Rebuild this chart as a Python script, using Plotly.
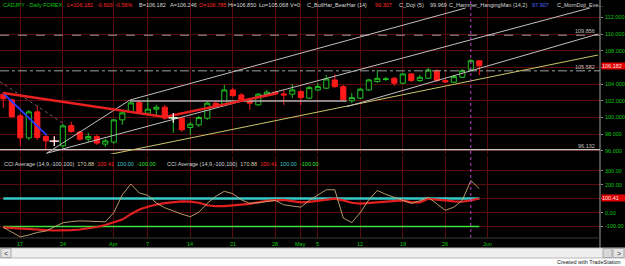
import plotly.graph_objects as go

W, H = 625, 266

# ---------------- data ----------------
bar_index = list(range(57))  # trading days 2008-03-13 .. 2008-05-30
opens = [102.78, 102.10, 100.18, 97.54, 100.66, 97.70, 97.18, 96.59, 99.02, 98.23,
         97.38, 97.70, 96.79, 97.03, 99.70, 100.70, 101.77, 100.50, 100.98, 101.22,
         99.90, 99.90, 98.78, 99.10, 99.90, 101.70, 101.58, 103.29, 102.69, 101.98,
         101.50, 102.61, 103.02, 102.81, 102.78, 103.09, 102.30, 103.29, 103.50, 104.49,
         103.69, 101.98, 102.30, 103.29, 104.29, 104.54, 104.69, 104.10, 105.21, 104.41,
         104.69, 105.60, 104.41, 104.22, 104.81, 105.77, 106.785]
highs = [103.05, 102.22, 100.42, 100.90, 101.38, 97.90, 97.78, 99.22, 99.46, 98.38,
         98.14, 97.90, 97.42, 99.82, 100.78, 101.98, 101.98, 102.34, 101.50, 101.50,
         100.30, 100.06, 99.46, 100.18, 101.86, 101.98, 103.89, 103.53, 102.93, 102.34,
         102.93, 103.29, 103.17, 103.29, 104.01, 103.29, 103.77, 104.13, 105.09, 105.17,
         103.89, 102.93, 103.53, 104.61, 105.69, 104.85, 104.85, 105.33, 105.33, 105.09,
         105.93, 105.81, 104.61, 105.09, 105.81, 107.01, 106.850]
lows = [101.14, 99.94, 96.59, 97.30, 97.30, 96.13, 96.59, 96.35, 98.14, 97.18,
        97.06, 96.71, 96.47, 96.83, 99.10, 100.54, 100.42, 100.30, 100.30, 99.70,
        98.14, 98.26, 97.90, 98.86, 99.70, 101.14, 101.50, 102.46, 101.98, 100.90,
        101.38, 102.46, 102.69, 101.50, 102.34, 101.50, 102.22, 103.17, 103.41, 103.53,
        101.98, 101.74, 102.22, 103.17, 104.13, 104.37, 103.77, 104.01, 104.25, 104.25,
        104.61, 104.25, 104.13, 104.13, 104.73, 105.57, 105.068]
closes = [102.22, 100.10, 97.54, 100.66, 97.58, 97.18, 97.14, 98.98, 98.30, 97.38,
          97.70, 96.91, 97.18, 99.70, 100.54, 101.74, 100.58, 100.98, 101.22, 99.90,
          99.98, 98.50, 99.19, 99.98, 101.70, 101.29, 103.29, 102.61, 102.10, 101.70,
          102.78, 103.02, 102.81, 102.69, 103.29, 102.37, 103.57, 103.69, 104.61, 103.69,
          102.10, 102.37, 103.38, 104.49, 104.69, 104.61, 104.10, 105.21, 104.41, 104.81,
          105.69, 104.41, 104.25, 104.89, 105.60, 106.80, 106.182]

cci = [-106, -140, -175, -161, -143, -133, -104, -74, -65, -60,
       -62, -65, -67, -1, 127, 204, 140, 123, 68, 34,
       9, -12, -30, 2, 66, 116, 152, 135, 91, 66,
       70, 77, 87, 55, 45, 38, 87, 123, 163, 163,
       -40, -72, -1, 91, 158, 130, 109, 89, 66, 84,
       109, 62, 16, 38, 87, 229, 170.88]
cci_avg = [-106, -111, -116, -121, -126, -127, -129, -130, -126, -122,
           -115, -104, -90, -72, -51, -12, 21, 41, 57, 67,
           75, 80, 78, 70, 52, 45, 46, 50, 53, 62,
           73, 84, 89, 91, 82, 72, 76, 82, 91, 99,
           87, 70, 64, 68, 75, 80, 84, 87, 73, 73,
           98, 94, 87, 80, 77, 87, 100.41]

doji_index = [6, 20]
doji_price = [97.16, 99.94]

tick_idx = [2, 7, 13, 17, 22, 27, 32, 35, 37, 42, 47, 52, 57]
tick_text = ["17", "24", "Apr", "7", "14", "21", "28", "May", "5", "12", "19", "26", "Jun"]

price_ticks = [96, 98, 100, 102, 104, 106, 108, 110, 112]
price_labels = ["96.000", "98.000", "100.000", "102.000", "104.000", "", "108.000",
                "110.000", "112.000"]
cci_ticks = [-100, 0, 100, 200, 300]
cci_labels = ["-100.00", "0.00", "", "200.00", "300.00"]

# drawing-tool anchors (bar index, price)
blue_x, blue_y = [0, 5.1], [102.89, 97.88]
red_x, red_y = [0, 19.0, 32.1], [102.92, 100.04, 102.86]
top_x, top_y = [5.1, 14.9, 54.4], [95.69, 102.08, 113.12]
mid_x, mid_y = [5.1, 69.0], [95.69, 113.12]
low_x, low_y = [40.4, 69.97], [101.28, 110.0]
yel_x, yel_y = [12.16, 69.97], [95.48, 107.48]
flat_x, flat_y = [14.9, 40.4], [101.96, 101.96]
dash_x, dash_y = [-0.4, 7.0], [104.28, 99.32]
level_dash, level_dashdot, level_low = 109.856, 105.582, 96.132
last_price, last_avg = 106.182, 100.41
cursor_bar = 55

header_items = ["CADJPY - Daily FOREX", "L=106.182", "-0.603", "-0.56%", "B=106.182",
                "A=106.246", "O=106.785", "Hi=106.850", "Lo=105.068", "V=0",
                "C_BullHar_BearHar (14)", "99.307", "C_Doji (5)", "99.969",
                "C_Hammer_HangingMan (14,2)", "97.907", "C_MornDoji_Eve..."]

# ---------------- style ----------------
GRID = "#5a0b0b"
GREEN_TXT = "#10c810"
WHITE_TXT = "#d8d8d8"
RED_TXT = "#ff2a2a"
FONT = "Liberation Sans, Arial, sans-serif"
FS = 5.5
header_colors = [GREEN_TXT, RED_TXT, RED_TXT, RED_TXT, WHITE_TXT, WHITE_TXT, RED_TXT,
                 WHITE_TXT, WHITE_TXT, WHITE_TXT, WHITE_TXT, RED_TXT, WHITE_TXT,
                 WHITE_TXT, WHITE_TXT, "#4a6aff", WHITE_TXT]
header_px = [1, 65, 95, 113, 137, 168, 197, 226, 257, 288, 305, 373, 397, 428, 447, 530, 555]

PX = 8.5          # px per bar
X0 = 3.3          # px of bar 0
xr = [(0 - X0) / PX, (600 - X0) / PX]


def py(p):  # pixel row -> paper y
    return 1 - p / H


fig = go.Figure()


def pline(x, y, color, width=1, dash=None, ax=("x", "y")):
    fig.add_trace(go.Scatter(x=x, y=y, mode="lines", xaxis=ax[0], yaxis=ax[1],
                             line=dict(color=color, width=width, dash=dash),
                             hoverinfo="skip"))


full = [xr[0], xr[1]]
pline(full, [level_dash] * 2, "#a0a0a0", 1, "dash")
pline(full, [level_dashdot] * 2, "#a0a0a0", 1, "dashdot")
pline(full, [level_low] * 2, "#c8c8c8", 1.3)
pline(dash_x, dash_y, "#7a5a6a", 1, "dot")
pline(yel_x, yel_y, "#c8c86a", 1)
pline(top_x, top_y, "#c0c0c0", 1)
pline(mid_x, mid_y, "#c0c0c0", 1)
pline(low_x, low_y, "#c0c0c0", 1)
pline(flat_x, flat_y, "#b0b0b0", 1.3)
pline(blue_x, blue_y, "#2a3cff", 1.8)
pline(red_x, red_y, "#e82020", 2.4)

fig.add_trace(go.Candlestick(
    x=bar_index, open=opens, high=highs, low=lows, close=closes,
    xaxis="x", yaxis="y", whiskerwidth=0,
    increasing=dict(line=dict(color="#22c322", width=1), fillcolor="black"),
    decreasing=dict(line=dict(color="#ff1a1a", width=1), fillcolor="#ff1a1a"),
    hoverinfo="skip"))

fig.add_trace(go.Scatter(x=doji_index, y=doji_price, mode="markers", xaxis="x", yaxis="y",
                         marker=dict(symbol="cross-thin", size=7,
                                     line=dict(color="white", width=1.2)),
                         hoverinfo="skip"))

# CCI panel
ccix = [0, 56]
pline(ccix, [100, 100], "#38c8c8", 2.6, ax=("x2", "y2"))
pline(ccix, [-100, -100], "#40e040", 1.4, ax=("x2", "y2"))
pline(bar_index, cci_avg, "#e02020", 2.2, ax=("x2", "y2"))
pline(bar_index, cci, "#c8aa78", 0.9, ax=("x2", "y2"))

ax_common = dict(range=xr, tickvals=tick_idx, showticklabels=False, showgrid=True,
                 gridcolor=GRID, gridwidth=1, zeroline=False, showline=False,
                 fixedrange=True, domain=[0, 600 / W], automargin=False)
yax_common = dict(side="right", showticklabels=False, ticks="outside", ticklen=2,
                  tickcolor="#909090", showgrid=True, gridcolor=GRID, zeroline=False,
                  showline=False, fixedrange=True, automargin=False)

fig.update_layout(
    width=W, height=H, margin=dict(l=0, r=0, t=0, b=0),
    template="none", paper_bgcolor="black", plot_bgcolor="black",
    showlegend=False, boxgap=0.25, boxgroupgap=0.2,
    font=dict(family=FONT, size=FS, color=WHITE_TXT),
    xaxis=dict(anchor="y", rangeslider=dict(visible=False), **ax_common),
    xaxis2=dict(anchor="y2", **ax_common),
    yaxis=dict(domain=[py(154), 1], range=[95.605, 114.079], anchor="x",
               tickvals=price_ticks, **yax_common),
    yaxis2=dict(domain=[py(238), py(156)], range=[-182.8, 405], anchor="x2",
                tickvals=cci_ticks, **yax_common),
)

shapes = [
    dict(type="line", xref="x", yref="paper", x0=cursor_bar, x1=cursor_bar,
         y0=py(238), y1=1, line=dict(color="#c040d0", width=1, dash="dot")),
    dict(type="line", xref="paper", yref="paper", x0=600 / W, x1=600 / W,
         y0=py(248), y1=1, line=dict(color="#a0a0a0", width=1)),
    dict(type="line", xref="paper", yref="paper", x0=0, x1=600 / W,
         y0=py(238), y1=py(238), line=dict(color="#3a3a3a", width=1)),
    dict(type="rect", xref="paper", yref="paper", x0=0, x1=1, y0=0, y1=py(248),
         fillcolor="white", line=dict(width=0), layer="above"),
    dict(type="rect", xref="paper", yref="paper", x0=0, x1=1, y0=py(258), y1=py(248),
         fillcolor="#eeeeee", line=dict(color="#b8b8b8", width=1), layer="above"),
    dict(type="rect", xref="paper", yref="paper", x0=1 / W, x1=11 / W, y0=py(257.5),
         y1=py(248.5), fillcolor="#e4e4e4", line=dict(color="#a8a8a8", width=1), layer="above"),
    dict(type="rect", xref="paper", yref="paper", x0=603 / W, x1=612 / W, y0=py(257.5),
         y1=py(248.5), fillcolor="#d8d8d8", line=dict(color="#a8a8a8", width=1), layer="above"),
    dict(type="rect", xref="paper", yref="paper", x0=613 / W, x1=624 / W, y0=py(257.5),
         y1=py(248.5), fillcolor="#e4e4e4", line=dict(color="#a8a8a8", width=1), layer="above"),
]
fig.update_layout(shapes=shapes)

ann = []
for t, c, xp in zip(header_items, header_colors, header_px):
    ann.append(dict(text=t, x=xp / W, y=py(5), xref="paper", yref="paper",
                    xanchor="left", yanchor="middle", showarrow=False,
                    font=dict(color=c, size=FS, family=FONT)))

NB = "\u00a0\u00a0"
cci_hdr = ("CCI Average (14,9,-100,100)" + NB +
           "<span style='color:#d8c8a8'>170.88</span>" + NB +
           "<span style='color:#ff2a2a'>100.41</span>" + NB +
           "<span style='color:#40c8c8'>100.00</span>" + NB +
           "<span style='color:#30e030'>-100.00</span>")
for xp in (2, 165):
    ann.append(dict(text=cci_hdr, x=xp / W, y=py(164), xref="paper", yref="paper",
                    xanchor="left", yanchor="middle", showarrow=False,
                    font=dict(color=WHITE_TXT, size=FS, family=FONT)))

for i, t in zip(tick_idx, tick_text):
    ann.append(dict(text=t, x=i, y=py(243.5), xref="x2", yref="paper",
                    xanchor="center", yanchor="middle", showarrow=False,
                    font=dict(color=GREEN_TXT, size=FS, family=FONT)))

for v, t in zip(price_ticks, price_labels):
    if t:
        ann.append(dict(text=t, x=603 / W, y=v, xref="paper", yref="y",
                        xanchor="left", yanchor="middle", showarrow=False,
                        font=dict(color=GREEN_TXT, size=FS, family=FONT)))
for v, t in zip(cci_ticks, cci_labels):
    if t:
        ann.append(dict(text=t, x=603 / W, y=v, xref="paper", yref="y2",
                        xanchor="left", yanchor="middle", showarrow=False,
                        font=dict(color=GREEN_TXT, size=FS, family=FONT)))

for lv in (level_dash, level_dashdot, level_low):
    ann.append(dict(text="%.3f" % lv, x=597 / W, y=lv, xref="paper", yref="y",
                    xanchor="right", yanchor="bottom", showarrow=False, yshift=-1,
                    font=dict(color="#c0c0c0", size=FS, family=FONT)))

ann.append(dict(text="%.3f" % last_price, x=601 / W, y=last_price, xref="paper", yref="y",
                xanchor="left", yanchor="middle", showarrow=False, bgcolor="#e00000",
                borderpad=0, width=24, align="left",
                font=dict(color="#ffe0e0", size=FS, family=FONT)))
ann.append(dict(text="%.2f" % last_avg, x=601 / W, y=last_avg, xref="paper", yref="y2",
                xanchor="left", yanchor="middle", showarrow=False, bgcolor="#e00000",
                borderpad=0, width=24, align="left",
                font=dict(color="#ffe0e0", size=FS, family=FONT)))

ann.append(dict(text="<", x=6 / W, y=py(253), xref="paper", yref="paper",
                xanchor="center", yanchor="middle", showarrow=False,
                font=dict(color="#303030", size=7, family=FONT)))
ann.append(dict(text=">", x=618.5 / W, y=py(253), xref="paper", yref="paper",
                xanchor="center", yanchor="middle", showarrow=False,
                font=dict(color="#303030", size=7, family=FONT)))
ann.append(dict(text="Created with TradeStation", x=623 / W, y=py(262), xref="paper",
                yref="paper", xanchor="right", yanchor="middle", showarrow=False,
                font=dict(color="#202020", size=FS, family=FONT)))

fig.update_layout(annotations=ann)
fig.write_html("out.html")
